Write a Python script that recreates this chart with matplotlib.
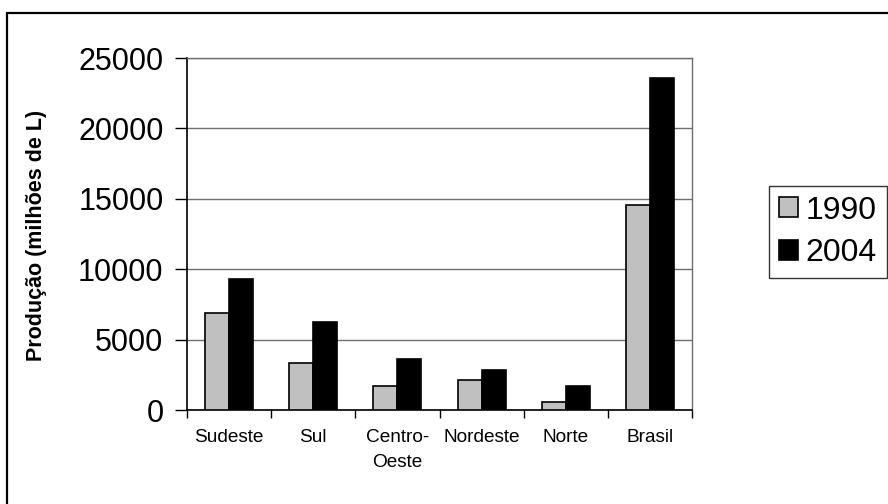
import matplotlib
matplotlib.use("Agg")
import matplotlib.pyplot as plt
import numpy as np
from matplotlib.patches import Rectangle

plt.rcParams['font.family'] = ['Liberation Sans', 'DejaVu Sans']

regions = ["Sudeste", "Sul", "Centro-\nOeste", "Nordeste", "Norte", "Brasil"]
prod_1990 = [6900, 3360, 1680, 2110, 590, 14550]
prod_2004 = [9300, 6280, 3650, 2820, 1710, 23580]
y_ticks = [0, 5000, 10000, 15000, 20000, 25000]

W, H = 888, 504
fig = plt.figure(figsize=(W / 100, H / 100), dpi=100)
fig.patch.set_facecolor("white")

# outer chart frame
fig.patches.append(Rectangle((7 / W, -0.1), 1.0, 1 - 13 / H + 0.1,
                             transform=fig.transFigure, fill=False,
                             edgecolor="black", linewidth=1.6, zorder=0))

ax = fig.add_axes([187 / W, 1 - 410 / H, (692 - 187) / W, (410 - 58) / H])

x = np.arange(len(regions))
bw = 1 / 3.5
ax.bar(x - bw / 2, prod_1990, width=bw, color="#C0C0C0", edgecolor="black",
       linewidth=1.2, label="1990", zorder=3)
ax.bar(x + bw / 2, prod_2004, width=bw, color="black", edgecolor="black",
       linewidth=1.2, label="2004", zorder=3)

ax.set_xlim(-0.5, len(regions) - 0.5)
ax.set_ylim(0, 25000)
ax.set_yticks(y_ticks)
ax.set_yticklabels([str(v) for v in y_ticks], fontsize=22)
ax.yaxis.grid(True, color="#6e6e6e", linewidth=1.0, zorder=0)
ax.set_axisbelow(True)

ax.set_xticks(x)
ax.set_xticklabels(regions, fontsize=13.7, linespacing=1.6)
ax.set_xticks(np.arange(len(regions) + 1) - 0.5, minor=True)
ax.tick_params(axis="x", which="major", length=0, pad=14)
ax.tick_params(axis="x", which="minor", length=6, width=1, direction="out")
ax.tick_params(axis="y", length=9, width=1, direction="out", pad=8)

for side in ("left", "bottom"):
    ax.spines[side].set_color("black")
    ax.spines[side].set_linewidth(1.2)
for side in ("top", "right"):
    ax.spines[side].set_color("#6e6e6e")
    ax.spines[side].set_linewidth(1.0)

ax.set_ylabel("Produção (milhões de L)", fontsize=15.5, fontweight="bold")
ax.yaxis.set_label_coords(47 / W, 1 - 235 / H, transform=fig.transFigure)

leg = fig.legend(loc="upper left", bbox_to_anchor=(769 / W, 1 - 186 / H),
                 bbox_transform=fig.transFigure, fontsize=23, frameon=True,
                 fancybox=False, handlelength=0.6, handleheight=0.6,
                 handletextpad=0.25, borderpad=0.3, labelspacing=0.4,
                 borderaxespad=0)
leg.get_frame().set_edgecolor("black")
leg.get_frame().set_linewidth(1.0)

fig.savefig("out.png", dpi=100)
